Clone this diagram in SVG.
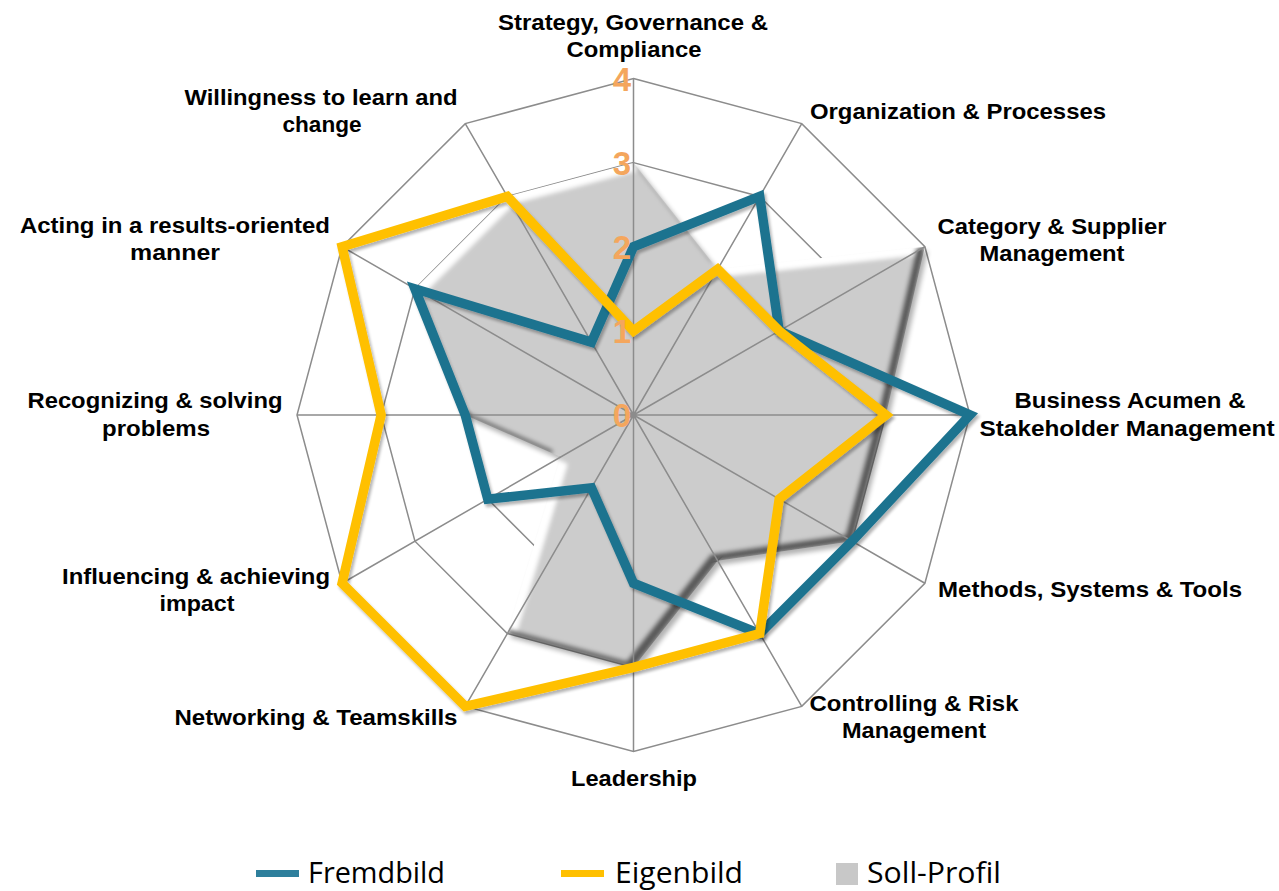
<svg xmlns="http://www.w3.org/2000/svg" xmlns:xlink="http://www.w3.org/1999/xlink" width="1279" height="891" viewBox="0 0 1279 891">
<style>
.grid{fill:none;stroke:#8C8C8C;stroke-width:1.5}
.lbl{font-family:"Liberation Sans",Arial,sans-serif;font-weight:bold;font-size:22px;fill:#000;text-anchor:middle}
.num{font-family:"Liberation Sans",Arial,sans-serif;font-weight:bold;font-size:33px;fill:#F4A65D;text-anchor:end}
.leg{font-family:"Open Sans","Noto Sans",sans-serif;font-size:30px;fill:#000}
.series{fill:none;stroke-width:9.5;stroke-linejoin:miter;stroke-miterlimit:10}
</style>
<defs>
<polygon id="sollP" points="633.5,162.63 717.63,269.3 924.9,246.75 885.88,415 852.06,541.19 717.63,560.7 633.5,667.38 507.31,633.56 560.65,457.06 465.25,415 414.94,288.81 507.31,196.44"/>
<clipPath id="clipP"><use xlink:href="#sollP"/></clipPath>
<clipPath id="clipPm"><use xlink:href="#sollP" transform="translate(-7,-7)"/></clipPath>
<filter id="soft" x="-5%" y="-5%" width="110%" height="110%"><feGaussianBlur stdDeviation="2"/></filter>
<filter id="blur3" x="-5%" y="-5%" width="110%" height="110%"><feGaussianBlur stdDeviation="2.5"/></filter>
<filter id="lineShadow" x="-10%" y="-10%" width="120%" height="120%">
<feGaussianBlur in="SourceAlpha" stdDeviation="1.5"/>
<feOffset dx="2" dy="3"/>
<feComponentTransfer><feFuncA type="linear" slope="0.3"/></feComponentTransfer>
<feMerge><feMergeNode/><feMergeNode in="SourceGraphic"/></feMerge>
</filter>
</defs>
<rect width="1279" height="891" fill="#FFFFFF"/>

<g id="grid-rings">
<polygon class="grid" points="633.5,78.5 801.75,123.6 924.9,246.75 970,415 924.9,583.25 801.75,706.4 633.5,751.5 465.25,706.4 342.1,583.25 297,415 342.1,246.75 465.25,123.6"/>
<polygon class="grid" points="633.5,162.63 759.69,196.44 852.06,288.81 885.88,415 852.06,541.19 759.69,633.56 633.5,667.38 507.31,633.56 414.94,541.19 381.13,415 414.94,288.81 507.31,196.44"/>
<polygon class="grid" points="633.5,246.75 717.63,269.3 779.2,330.88 801.75,415 779.2,499.13 717.63,560.7 633.5,583.25 549.38,560.7 487.8,499.13 465.25,415 487.8,330.88 549.38,269.3"/>
<polygon class="grid" points="633.5,330.88 675.56,342.15 706.35,372.94 717.63,415 706.35,457.06 675.56,487.85 633.5,499.13 591.44,487.85 560.65,457.06 549.38,415 560.65,372.94 591.44,342.15"/>
</g>

<g id="soll-profil">
<use xlink:href="#sollP" fill="#000" opacity="0.3" transform="translate(3,4)" filter="url(#blur3)"/>
<g clip-path="url(#clipP)">
<g filter="url(#soft)">
<use xlink:href="#sollP" fill="#5A5A5A"/>
<use xlink:href="#sollP" transform="translate(-7,-7)" fill="#FFFFFF"/>
<g clip-path="url(#clipPm)"><use xlink:href="#sollP" transform="translate(7,7)" fill="#CCCCCC"/></g>
</g>
</g>
</g>

<g id="grid-spokes">
<path class="grid" d="M633.5,415L633.5,78.5M633.5,415L801.75,123.6M633.5,415L924.9,246.75M633.5,415L970,415M633.5,415L924.9,583.25M633.5,415L801.75,706.4M633.5,415L633.5,751.5M633.5,415L465.25,706.4M633.5,415L342.1,583.25M633.5,415L297,415M633.5,415L342.1,246.75M633.5,415L465.25,123.6"/>
</g>

<g id="fremdbild" filter="url(#lineShadow)">
<polygon class="series" stroke="#1F738F" points="633.5,246.75 759.69,196.44 779.2,330.88 970,415 852.06,541.19 759.69,633.56 633.5,583.25 591.44,487.85 487.8,499.13 465.25,415 414.94,288.81 591.44,342.15"/>
</g>
<g id="eigenbild" filter="url(#lineShadow)">
<polygon class="series" stroke="#FFC000" points="633.5,330.88 717.63,269.3 779.2,330.88 885.88,415 779.2,499.13 759.69,633.56 633.5,667.38 465.25,706.4 342.1,583.25 381.13,415 342.1,246.75 507.31,196.44"/>
</g>

<g id="scale">
<text class="num" x="631" y="90.5">4</text>
<text class="num" x="631" y="174.6">3</text>
<text class="num" x="631" y="258.8">2</text>
<text class="num" x="631" y="342.9">1</text>
<text class="num" x="631" y="427">0</text>
</g>

<g id="axis-labels">
<g id="lbl-strategy"><text class="lbl" x="633" y="30" textLength="270" lengthAdjust="spacingAndGlyphs">Strategy, Governance &amp;</text><text class="lbl" x="634" y="57" textLength="135" lengthAdjust="spacingAndGlyphs">Compliance</text></g>
<g id="lbl-organization"><text class="lbl" x="958" y="119" textLength="296" lengthAdjust="spacingAndGlyphs">Organization &amp; Processes</text></g>
<g id="lbl-category"><text class="lbl" x="1052" y="234" textLength="229" lengthAdjust="spacingAndGlyphs">Category &amp; Supplier</text><text class="lbl" x="1052" y="261" textLength="145" lengthAdjust="spacingAndGlyphs">Management</text></g>
<g id="lbl-business"><text class="lbl" x="1130" y="408" textLength="231" lengthAdjust="spacingAndGlyphs">Business Acumen &amp;</text><text class="lbl" x="1127" y="436" textLength="295" lengthAdjust="spacingAndGlyphs">Stakeholder Management</text></g>
<g id="lbl-methods"><text class="lbl" x="1090" y="597" textLength="304" lengthAdjust="spacingAndGlyphs">Methods, Systems &amp; Tools</text></g>
<g id="lbl-controlling"><text class="lbl" x="914" y="711" textLength="209" lengthAdjust="spacingAndGlyphs">Controlling &amp; Risk</text><text class="lbl" x="914" y="738" textLength="144" lengthAdjust="spacingAndGlyphs">Management</text></g>
<g id="lbl-leadership"><text class="lbl" x="634" y="786" textLength="126" lengthAdjust="spacingAndGlyphs">Leadership</text></g>
<g id="lbl-networking"><text class="lbl" x="316" y="725" textLength="283" lengthAdjust="spacingAndGlyphs">Networking &amp; Teamskills</text></g>
<g id="lbl-influencing"><text class="lbl" x="196" y="584" textLength="268" lengthAdjust="spacingAndGlyphs">Influencing &amp; achieving</text><text class="lbl" x="197" y="611" textLength="75" lengthAdjust="spacingAndGlyphs">impact</text></g>
<g id="lbl-recognizing"><text class="lbl" x="155" y="408" textLength="255" lengthAdjust="spacingAndGlyphs">Recognizing &amp; solving</text><text class="lbl" x="156" y="436" textLength="108" lengthAdjust="spacingAndGlyphs">problems</text></g>
<g id="lbl-acting"><text class="lbl" x="175" y="233" textLength="310" lengthAdjust="spacingAndGlyphs">Acting in a results-oriented</text><text class="lbl" x="175" y="260" textLength="90" lengthAdjust="spacingAndGlyphs">manner</text></g>
<g id="lbl-willingness"><text class="lbl" x="321" y="105" textLength="273" lengthAdjust="spacingAndGlyphs">Willingness to learn and</text><text class="lbl" x="322" y="132" textLength="79" lengthAdjust="spacingAndGlyphs">change</text></g>
</g>

<g id="legend">
<rect x="256" y="870" width="43" height="7" fill="#2E7F9C"/>
<text class="leg" x="308" y="883" textLength="137" lengthAdjust="spacingAndGlyphs">Fremdbild</text>
<rect x="561" y="870" width="43" height="7" fill="#FFC000"/>
<text class="leg" x="615" y="883" textLength="128" lengthAdjust="spacingAndGlyphs">Eigenbild</text>
<rect x="836" y="863" width="22" height="22" fill="#C8C8C8"/>
<text class="leg" x="867" y="883" textLength="134" lengthAdjust="spacingAndGlyphs">Soll-Profil</text>
</g>
</svg>
